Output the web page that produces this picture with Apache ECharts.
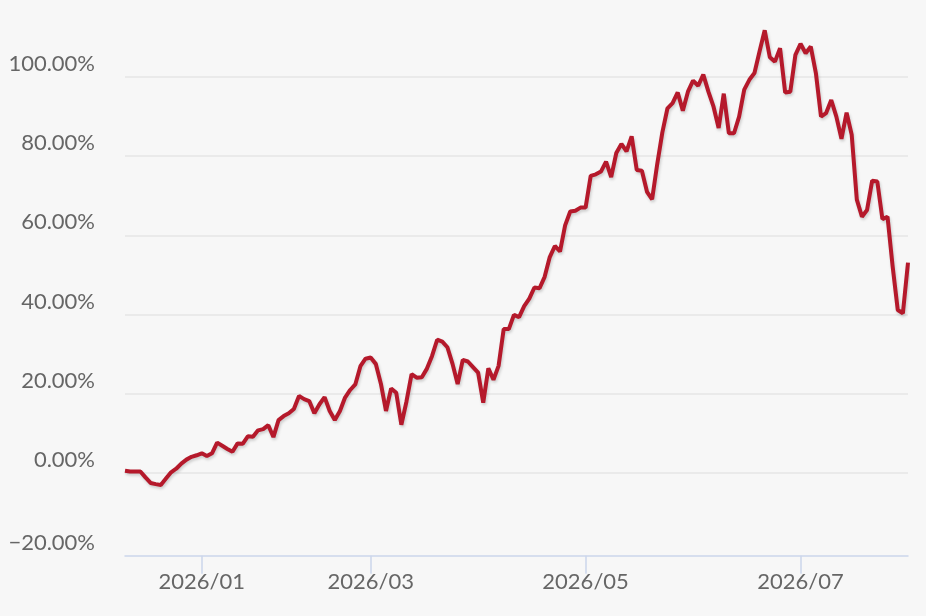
<!DOCTYPE html>
<html>
<head>
<meta charset="utf-8">
<script src="https://cdn.jsdelivr.net/npm/echarts@6/dist/echarts.min.js"></script>
<style>
  html, body { margin: 0; padding: 0; background: #f7f7f7; }
  #chart { width: 926px; height: 616px; }
</style>
</head>
<body>
<div id="chart"></div>
<script>
// trading days from 2025-12-11 to 2026-07-30, market holidays removed
var startDate = '2025-12-11';
var endDate = '2026-07-30';
var holidays = ['2026-01-01', '2026-01-02', '2026-02-16', '2026-02-17', '2026-02-18',
    '2026-02-19', '2026-02-20', '2026-02-23', '2026-02-24', '2026-04-03', '2026-04-06', '2026-05-01'];

// cumulative return, %
var returns = [
    0.5, 0.3, 0.3, 0.3, -1.2, -2.6, -2.9, -3.1, -1.5, 0.1,
    1.0, 2.3, 3.3, 4.0, 4.4, 4.9, 4.2, 4.9, 7.6, 6.8,
    6.0, 5.3, 7.4, 7.3, 9.2, 9.1, 10.7, 11.0, 12.0, 9.0,
    13.3, 14.3, 15.0, 16.1, 19.4, 18.6, 18.1, 15.0, 17.3, 19.1,
    15.6, 13.3, 15.6, 19.0, 20.9, 22.3, 26.9, 28.8, 29.1, 27.5,
    22.5, 15.6, 21.3, 20.2, 12.1, 18.0, 24.9, 24.0, 24.1, 26.3,
    29.5, 33.6, 33.1, 31.7, 27.5, 22.4, 28.5, 28.1, 26.7, 25.3,
    17.7, 26.4, 23.5, 27.0, 36.3, 36.3, 39.9, 39.3, 42.1, 44.0,
    46.8, 46.6, 49.5, 54.5, 57.3, 55.9, 62.5, 66.0, 66.2, 67.0,
    67.0, 75.0, 75.4, 76.1, 78.6, 74.7, 80.8, 83.1, 81.2, 85.0,
    76.5, 76.3, 71.0, 69.1, 78.0, 86.0, 92.1, 93.4, 96.1, 91.5,
    96.3, 99.1, 97.8, 100.6, 96.3, 92.5, 87.1, 95.8, 85.8, 85.8,
    90.0, 96.8, 99.3, 101.0, 106.5, 111.8, 105.0, 103.9, 107.3, 96.1,
    96.3, 105.6, 108.4, 106.0, 107.7, 101.0, 90.0, 90.9, 94.2, 90.0,
    84.4, 91.0, 85.4, 69.0, 64.7, 66.4, 73.8, 73.6, 64.1, 64.7,
    52.1, 41.1, 40.3, 53.1
];

var yTicks = [-20, 0, 20, 40, 60, 80, 100];
var yGridLines = [0, 20, 40, 60, 80, 100];
var labelMonths = ['01', '03', '05', '07'];

var dates = [];
var d = new Date(startDate + 'T00:00:00Z');
var end = new Date(endDate + 'T00:00:00Z');
while (d <= end) {
    var s = d.toISOString().slice(0, 10);
    var wd = d.getUTCDay();
    if (wd !== 0 && wd !== 6 && holidays.indexOf(s) < 0) dates.push(s);
    d.setUTCDate(d.getUTCDate() + 1);
}

// first trading day of the labelled months
function isMonthStart(index) {
    var cur = dates[index];
    if (!cur || index === 0) return false;
    if (dates[index - 1].slice(0, 7) === cur.slice(0, 7)) return false;
    return labelMonths.indexOf(cur.slice(5, 7)) >= 0;
}

var fontFamily = 'Lato, "Open Sans", sans-serif';
var myChart = echarts.init(document.getElementById('chart'));
myChart.setOption({
    backgroundColor: '#f7f7f7',
    animation: false,
    grid: {
        left: 125,
        right: 18,
        top: 25.6,
        bottom: 64.2
    },
    xAxis: {
        type: 'category',
        data: dates,
        boundaryGap: false,
        offset: 4,
        axisLine: {
            onZero: false,
            lineStyle: { color: '#ccd6eb', width: 1.5 }
        },
        axisTick: {
            interval: function (i) { return isMonthStart(i); },
            length: 18,
            lineStyle: { color: '#ccd6eb', width: 1.5 }
        },
        axisLabel: {
            interval: function (i) { return isMonthStart(i); },
            formatter: function (v) { return v.slice(0, 4) + '/' + v.slice(5, 7); },
            fontFamily: fontFamily,
            fontSize: 22,
            color: '#666666',
            margin: 15
        },
        splitLine: { show: false }
    },
    yAxis: {
        type: 'value',
        min: -20,
        max: 113,
        axisLine: { show: false },
        axisTick: { show: false, customValues: yGridLines },
        axisLabel: {
            customValues: yTicks,
            formatter: function (v) {
                var txt = (v < 0 ? '\u2212' : '') + Math.abs(v).toFixed(2) + '%';
                // lowest label sits on the x axis line, a little lower
                return v === yTicks[0] ? '{low|' + txt + '}' : txt;
            },
            fontFamily: fontFamily,
            fontSize: 22,
            color: '#666666',
            margin: 30,
            verticalAlign: 'bottom',
            lineHeight: 26,
            rich: {
                low: {
                    fontFamily: fontFamily,
                    fontSize: 22,
                    color: '#666666',
                    lineHeight: 18
                }
            }
        },
        splitLine: {
            lineStyle: { color: '#e6e6e6', width: 1.5 }
        }
    },
    series: [{
        type: 'line',
        data: returns,
        symbol: 'none',
        lineStyle: {
            color: '#b5192b',
            width: 4,
            shadowColor: 'rgba(0,0,0,0.18)',
            shadowBlur: 3,
            shadowOffsetX: 1,
            shadowOffsetY: 2
        }
    }]
});
</script>
</body>
</html>
